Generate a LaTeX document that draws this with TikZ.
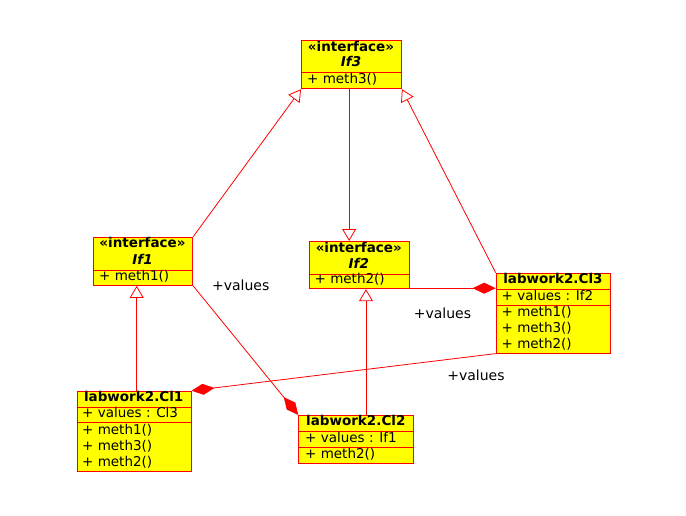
\documentclass[tikz,border=0pt]{standalone}
\usepackage{fontspec}
\setmainfont{DejaVu Sans}
\usetikzlibrary{arrows.meta,calc}
\definecolor{umlred}{RGB}{255,0,0}
\definecolor{umlyellow}{RGB}{255,255,0}
\begin{document}
\begin{tikzpicture}[x=1pt,y=-1pt,
 classbox/.style={draw=umlred, fill=umlyellow, line width=0.9pt, inner sep=0pt, anchor=north west},
 hd/.style={font=\fontsize{13.5}{16}\selectfont\bfseries, inner sep=0pt, anchor=mid},
 hdi/.style={font=\fontsize{13.5}{16}\selectfont\bfseries\itshape, inner sep=0pt, anchor=mid},
 mem/.style={font=\fontsize{13.5}{16}\selectfont, inner sep=0pt, anchor=mid west},
 sepline/.style={draw=umlred, line width=0.9pt},
 conn/.style={draw=umlred, line width=0.8pt},
 inh/.style={conn, -{Triangle[open, length=12pt, width=14pt, fill=white]}},
 comp/.style={conn, -{Diamond[length=23pt, width=11pt, fill=umlred]}},
 lbl/.style={font=\fontsize{14}{16}\selectfont, inner sep=0pt}
]
\useasboundingbox (0,0) rectangle (686,515);

% If3
\node[classbox, minimum width=100pt, minimum height=48.3pt] (if3) at (301,40) {};
\draw[sepline] ($(if3.north west)+(0,32.3)$) -- ++(100,0);
\node[hd] (if3a) at (351,48.3) {«interface»};
\node[hdi] (if3b) at (351,63.3) {If3};
\node[mem] (if3c) at (307,80.5) {+ meth3()};

% If1
\node[classbox, minimum width=99.6pt, minimum height=48.3pt] (if1) at (92.7,236.7) {};
\draw[sepline] ($(if1.north west)+(0,33.3)$) -- ++(99.6,0);
\node[hd] (if1a) at (142.5,245) {«interface»};
\node[hdi] (if1b) at (142.5,261.7) {If1};
\node[mem] (if1c) at (99,278) {+ meth1()};

% If2
\node[classbox, minimum width=99.7pt, minimum height=47.3pt] (if2) at (309,241) {};
\draw[sepline] ($(if2.north west)+(0,33)$) -- ++(99.7,0);
\node[hd] (if2a) at (358.8,250) {«interface»};
\node[hdi] (if2b) at (358.8,265.7) {If2};
\node[mem] (if2c) at (314.5,281) {+ meth2()};

% Cl3
\node[classbox, minimum width=114.3pt, minimum height=80pt] (cl3) at (495.7,272.7) {};
\draw[sepline] ($(cl3.north west)+(0,16.6)$) -- ++(114.3,0);
\draw[sepline] ($(cl3.north west)+(0,33)$) -- ++(114.3,0);
\node[hd] (cl3a) at (552.9,281) {labwork2.Cl3};
\node[mem] (cl3b) at (501.5,297.7) {+ values : If2};
\node[mem] (cl3c) at (501.5,313.5) {+ meth1()};
\node[mem] (cl3d) at (501.5,329.5) {+ meth3()};
\node[mem] (cl3e) at (501.5,345.3) {+ meth2()};

% Cl1
\node[classbox, minimum width=114pt, minimum height=80.3pt] (cl1) at (76.7,390.7) {};
\draw[sepline] ($(cl1.north west)+(0,16.6)$) -- ++(114,0);
\draw[sepline] ($(cl1.north west)+(0,32)$) -- ++(114,0);
\node[hd] (cl1a) at (133.7,399) {labwork2.Cl1};
\node[mem] (cl1b) at (82,415) {+ values : Cl3};
\node[mem] (cl1c) at (82,431.5) {+ meth1()};
\node[mem] (cl1d) at (82,447.5) {+ meth3()};
\node[mem] (cl1e) at (82,463.3) {+ meth2()};

% Cl2
\node[classbox, minimum width=115pt, minimum height=48.3pt] (cl2) at (298.3,415) {};
\draw[sepline] ($(cl2.north west)+(0,16)$) -- ++(115,0);
\draw[sepline] ($(cl2.north west)+(0,32.3)$) -- ++(115,0);
\node[hd] (cl2a) at (355.8,423) {labwork2.Cl2};
\node[mem] (cl2b) at (305,439.3) {+ values : If1};
\node[mem] (cl2c) at (305,455.5) {+ meth2()};

% generalisations
\draw[inh] (if1.north east) -- (if3.south west);
\coordinate (if3bot) at ($(if3.south)+(-2.3,0)$);
\draw[inh] (if3bot) -- (if3bot |- if2.north);
\draw[inh] (cl3.north west) -- (if3.south east);
\coordinate (c1top) at ($(cl1.north west)+(60,0)$);
\draw[inh] (c1top) -- (c1top |- if1.south);
\coordinate (c2top) at ($(cl2.north west)+(67.7,0)$);
\draw[inh] (c2top) -- (c2top |- if2.south);

% compositions
\draw[comp] (if1.south east) -- (cl2.north west);
\draw[comp] (cl3.south west) -- (cl1.north east);
\coordinate (if2r) at ($(if2.south east)+(0,-1)$);
\draw[comp] (if2r) -- (if2r -| cl3.west);

% role labels
\node[lbl] (l1) at (240.7,285) {+values};
\node[lbl] (l2) at (442.5,313) {+values};
\node[lbl] (l3) at (476,375) {+values};
\end{tikzpicture}
\end{document}
